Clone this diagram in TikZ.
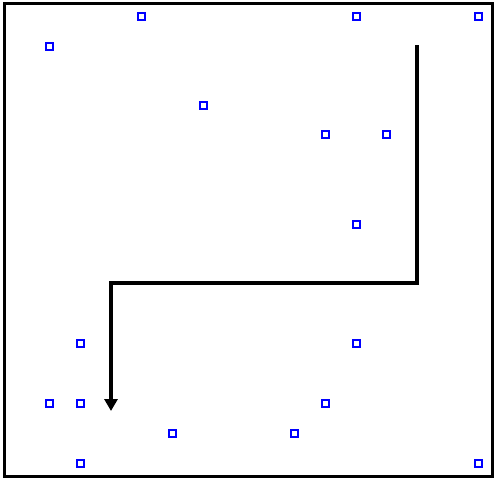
\documentclass[tikz,border=0pt]{standalone}
\usetikzlibrary{arrows.meta}
\begin{document}
\begin{tikzpicture}[x=1pt,y=-1pt,
  cell/.style={draw=blue,line width=2pt,fill=white,minimum size=7pt,inner sep=0pt,outer sep=0pt},
  route/.style={line width=4pt,-{Triangle[length=12pt,width=13pt]}}]
\useasboundingbox (0,0) rectangle (496,479);
\fill[white] (0,0) rectangle (496,479);
\draw[line width=3pt] (4,3) rectangle (492,476);
\foreach \n/\x/\y in {a/141/16,b/356/16,c/478/16,d/49/46,e/203/105,f/325/134,g/386/134,h/356/224,i/80/343,j/356/343,k/49/403,l/80/403,m/325/403,n/172/433,o/294/433,p/80/463,q/478/463}
  \node[cell] (\n) at (\x,\y) {};
\coordinate (s) at (417,45);
\coordinate (c1) at (417,283);
\coordinate (c2) at (111,283);
\coordinate (e) at (111,411);
\draw[route] (s) -- (c1) -- (c2) -- (e);
\end{tikzpicture}
\end{document}
